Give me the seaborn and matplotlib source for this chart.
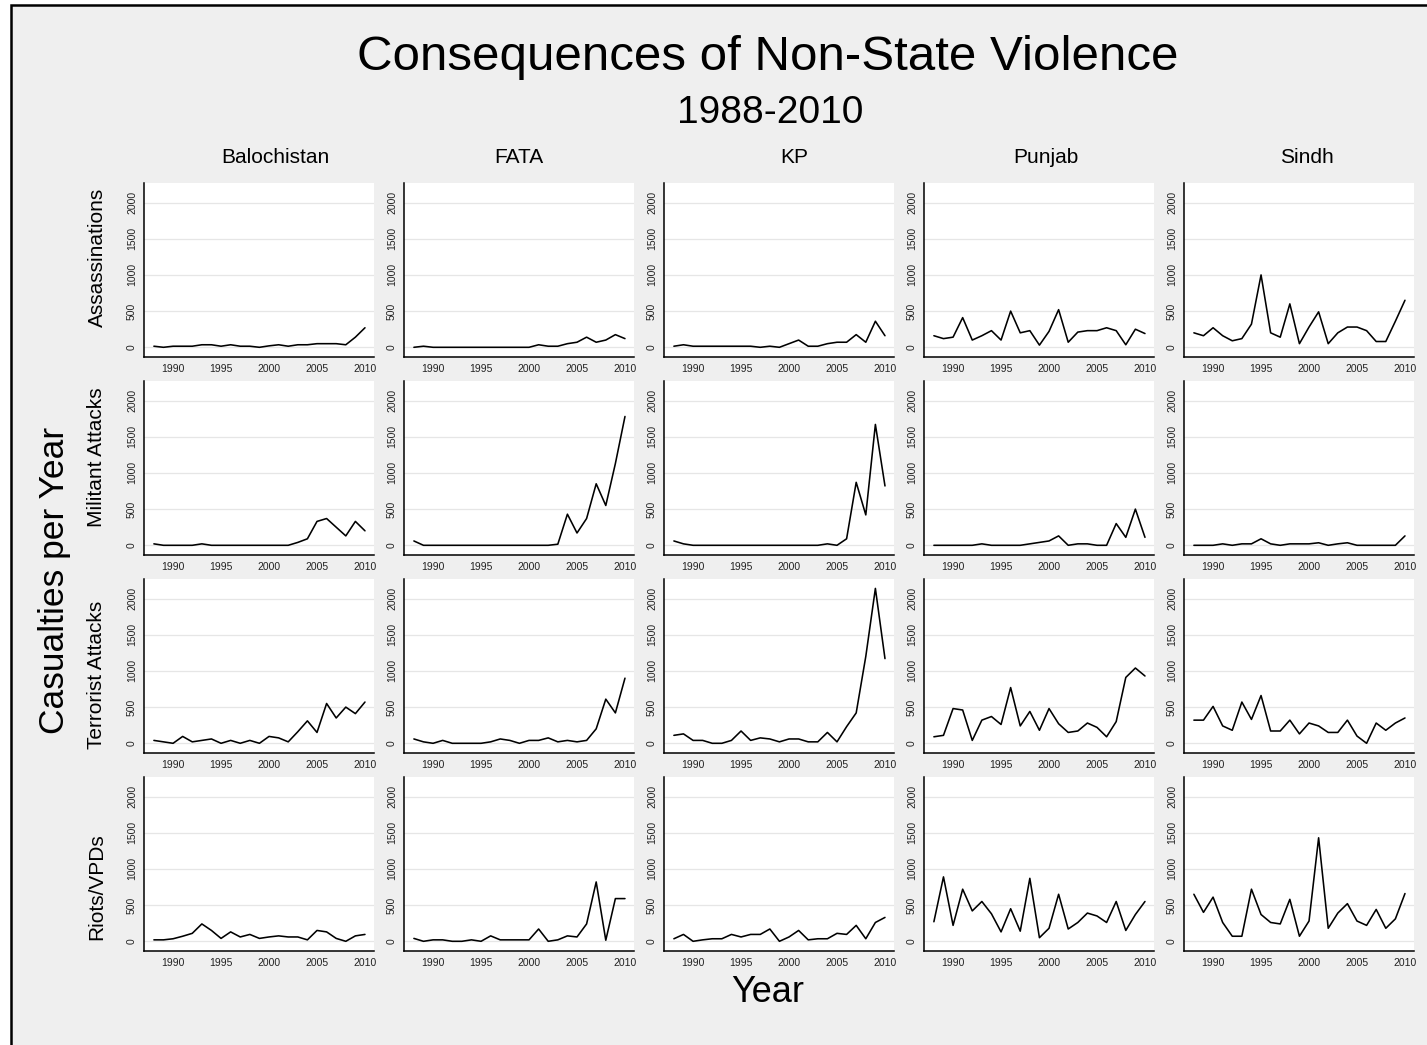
import numpy as np
import pandas as pd
import matplotlib
matplotlib.use("Agg")
import matplotlib.pyplot as plt
import seaborn as sns

# years and categories
years = list(range(1988, 2011))
provinces = ["Balochistan", "FATA", "KP", "Punjab", "Sindh"]
kinds = ["Assassinations", "Militant Attacks", "Terrorist Attacks", "Riots/VPDs"]

# Assassinations
assass_balochistan = [15, 0, 15, 15, 15, 35, 35, 15, 35, 15, 15, 0, 20, 35, 15, 35, 35, 50, 50, 50, 35, 140, 270]
assass_fata = [0, 15, 0, 0, 0, 0, 0, 0, 0, 0, 0, 0, 0, 35, 15, 15, 50, 70, 140, 70, 100, 175, 120]
assass_kp = [15, 35, 15, 15, 15, 15, 15, 15, 15, 0, 15, 0, 50, 100, 15, 15, 50, 70, 70, 175, 70, 360, 160]
assass_punjab = [160, 120, 140, 410, 100, 160, 230, 100, 500, 200, 230, 30, 220, 520, 70, 210, 230, 230, 270, 230, 35, 250, 190]
assass_sindh = [200, 160, 270, 160, 90, 120, 320, 1000, 200, 140, 600, 50, 280, 490, 50, 200, 280, 280, 230, 80, 80, 360, 650]

# Militant attacks
milit_balochistan = [20, 0, 0, 0, 0, 20, 0, 0, 0, 0, 0, 0, 0, 0, 0, 40, 90, 330, 370, 250, 130, 330, 200]
milit_fata = [60, 0, 0, 0, 0, 0, 0, 0, 0, 0, 0, 0, 0, 0, 0, 15, 430, 170, 370, 850, 550, 1130, 1780]
milit_kp = [60, 20, 0, 0, 0, 0, 0, 0, 0, 0, 0, 0, 0, 0, 0, 0, 20, 0, 90, 870, 420, 1670, 820]
milit_punjab = [0, 0, 0, 0, 0, 20, 0, 0, 0, 0, 20, 40, 60, 130, 0, 20, 20, 0, 0, 300, 110, 500, 110]
milit_sindh = [0, 0, 0, 20, 0, 20, 20, 90, 20, 0, 20, 20, 20, 35, 0, 20, 35, 0, 0, 0, 0, 0, 130]

# Terrorist attacks
terr_balochistan = [40, 20, 0, 95, 20, 40, 60, 0, 40, 0, 40, 0, 95, 75, 20, 160, 310, 150, 550, 350, 500, 410, 570]
terr_fata = [60, 20, 0, 40, 0, 0, 0, 0, 20, 60, 40, 0, 40, 40, 75, 20, 40, 20, 40, 200, 610, 420, 900]
terr_kp = [110, 130, 40, 40, 0, 0, 40, 170, 40, 75, 60, 20, 60, 60, 20, 20, 150, 20, 230, 420, 1200, 2140, 1170]
terr_punjab = [90, 110, 480, 460, 40, 320, 370, 260, 770, 240, 440, 180, 480, 270, 150, 170, 280, 220, 90, 300, 910, 1040, 930]
terr_sindh = [320, 320, 510, 240, 180, 570, 330, 660, 170, 170, 320, 130, 280, 240, 150, 150, 320, 100, 0, 280, 180, 280, 350]

# Riots / VPDs
riots_balochistan = [20, 20, 35, 70, 110, 240, 150, 40, 130, 60, 95, 40, 60, 75, 60, 60, 20, 150, 130, 40, 0, 75, 95]
riots_fata = [40, 0, 20, 20, 0, 0, 20, 0, 75, 20, 20, 20, 20, 170, 0, 20, 75, 60, 240, 820, 15, 590, 590]
riots_kp = [35, 95, 0, 20, 35, 35, 95, 60, 95, 95, 170, 0, 60, 150, 20, 35, 35, 110, 95, 220, 35, 260, 330]
riots_punjab = [270, 890, 220, 720, 420, 550, 380, 130, 450, 140, 870, 50, 180, 650, 170, 260, 390, 350, 260, 550, 150, 370, 550]
riots_sindh = [650, 400, 610, 260, 70, 70, 720, 370, 260, 240, 580, 70, 280, 1430, 180, 390, 520, 280, 220, 440, 180, 310, 660]

series = {
    "Assassinations": [assass_balochistan, assass_fata, assass_kp, assass_punjab, assass_sindh],
    "Militant Attacks": [milit_balochistan, milit_fata, milit_kp, milit_punjab, milit_sindh],
    "Terrorist Attacks": [terr_balochistan, terr_fata, terr_kp, terr_punjab, terr_sindh],
    "Riots/VPDs": [riots_balochistan, riots_fata, riots_kp, riots_punjab, riots_sindh],
}

rows = []
for k in kinds:
    for p, vals in zip(provinces, series[k]):
        for y, v in zip(years, vals):
            rows.append((k, p, y, v))
df = pd.DataFrame(rows, columns=["kind", "province", "year", "casualties"])

sns.set_style("white")
plt.rcParams["font.family"] = ["Liberation Sans", "DejaVu Sans"]
plt.rcParams["text.color"] = "black"

W, H = 1427, 1045
fig = plt.figure(figsize=(W / 100, H / 100), dpi=100)
fig.patch.set_facecolor("white")
# grey panel with black frame on top/left
frame = plt.Rectangle((11 / W, -0.01), 1.02, 1 - 5 / H + 0.01, transform=fig.transFigure,
                      facecolor="#efefef", edgecolor="black", linewidth=1.8, zorder=-10)
fig.add_artist(frame)

col_left = [144, 404, 664, 924, 1184]
col_title_x = [275, 519, 794, 1046, 1307]
row_top = [183, 381, 579, 777]
pw, ph = 230, 174

for i, k in enumerate(kinds):
    for j, p in enumerate(provinces):
        ax = fig.add_axes([col_left[j] / W, 1 - (row_top[i] + ph) / H, pw / W, ph / H])
        ax.set_zorder(1)
        sub = df[(df.kind == k) & (df.province == p)]
        sns.lineplot(data=sub, x="year", y="casualties", ax=ax, color="black", linewidth=1.15)
        ax.set_facecolor("white")
        ax.set_xlim(1986.97, 2010.94)
        ax.set_ylim(-134, 2270)
        ax.set_yticks([0, 500, 1000, 1500, 2000])
        ax.set_xticks([1990, 1995, 2000, 2005, 2010])
        ax.set_yticklabels(["0", "500", "1000", "1500", "2000"], rotation=90, va="center")
        ax.tick_params(axis="both", labelsize=7.5, colors="#222222", length=2, width=0.5, pad=3)
        ax.yaxis.grid(True, color="#e6e6e6", linewidth=0.9)
        ax.set_axisbelow(True)
        for s in ["top", "right"]:
            ax.spines[s].set_visible(False)
        for s in ["left", "bottom"]:
            ax.spines[s].set_color("black")
            ax.spines[s].set_linewidth(1.1)
        ax.set_xlabel("")
        ax.set_ylabel("")
        if i == 0:
            fig.text(col_title_x[j] / W, 1 - 158 / H, p, ha="center", va="center", fontsize=15)

row_label_y = [257, 457, 675, 887]
for k, yy in zip(kinds, row_label_y):
    fig.text(97 / W, 1 - yy / H, k, rotation=90, ha="center", va="center", fontsize=15)

fig.text(768 / W, 1 - 58 / H, "Consequences of Non-State Violence", ha="center", va="center", fontsize=35.5)
fig.text(770 / W, 1 - 113 / H, "1988-2010", ha="center", va="center", fontsize=28)
fig.text(55 / W, 1 - 580 / H, "Casualties per Year", rotation=90, ha="center", va="center", fontsize=25.5)
fig.text(768 / W, 1 - 993 / H, "Year", ha="center", va="center", fontsize=26)

fig.savefig("out.png", dpi=100, facecolor=fig.get_facecolor())
